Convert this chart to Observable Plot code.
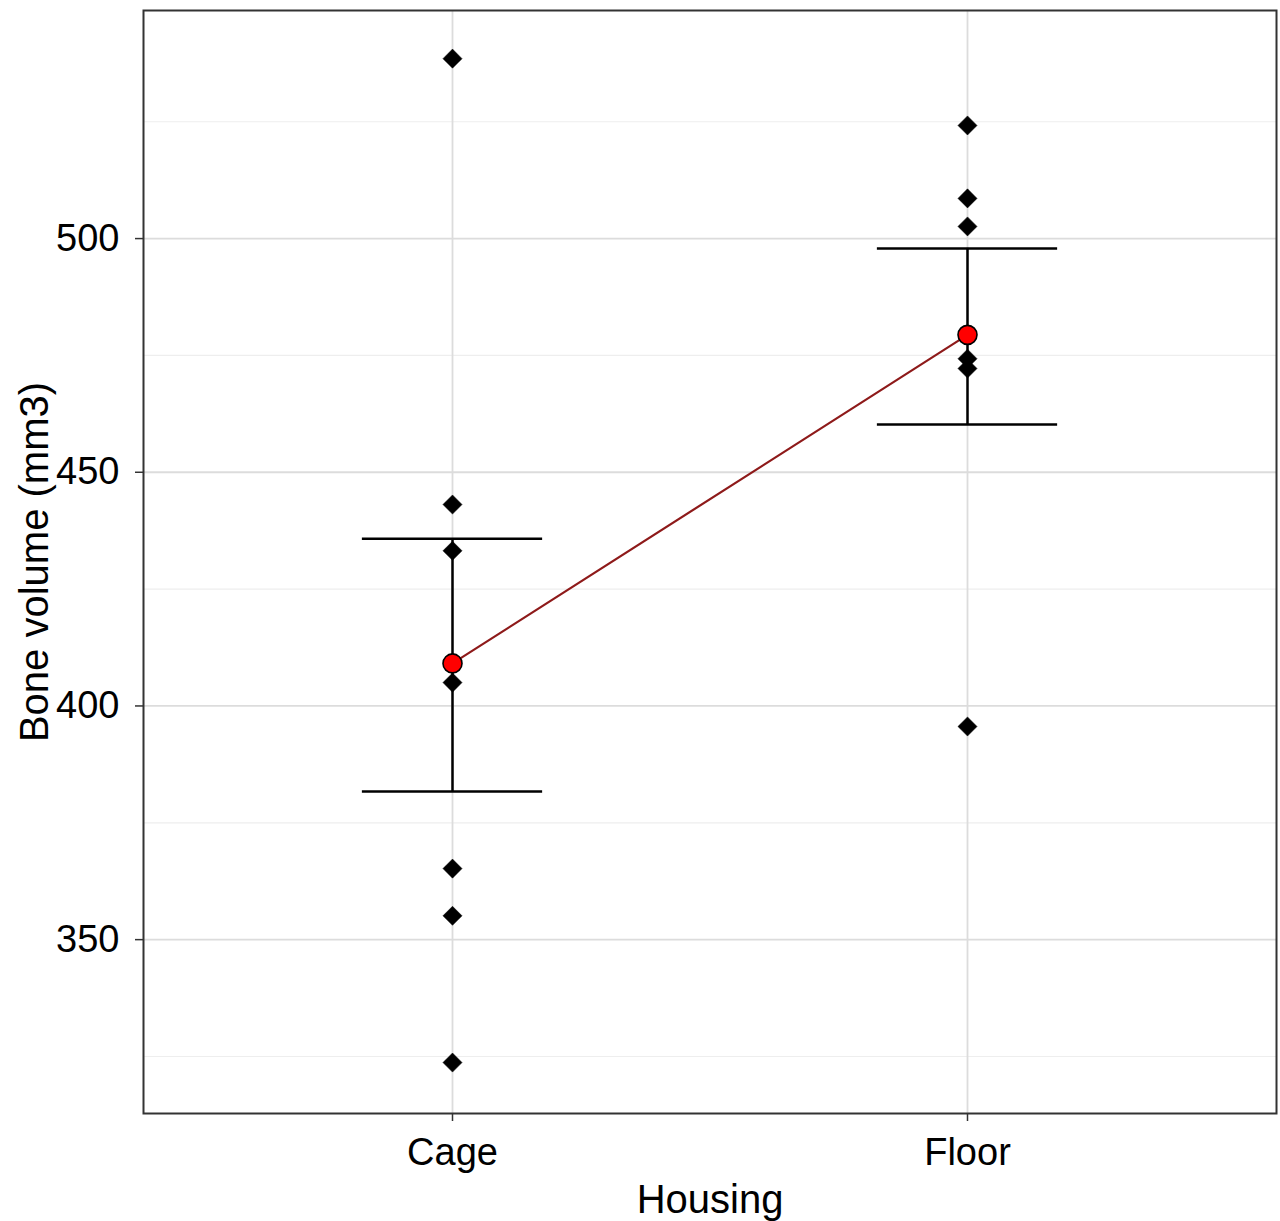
<!DOCTYPE html>
<html>
<head>
<meta charset="utf-8">
<script src="https://cdn.jsdelivr.net/npm/d3@7"></script>
<script src="https://cdn.jsdelivr.net/npm/@observablehq/plot@0.6"></script>
<style>
  html, body { margin: 0; padding: 0; background: #fff; }
  #chart svg { display: block; }
</style>
</head>
<body>
<div id="chart"></div>
<script>
const categories = ["Cage", "Floor"];
const cageValues = [538.5, 443.1, 433.2, 405.0, 365.2, 355.1, 323.7];
const floorValues = [524.2, 508.6, 502.6, 474.3, 472.2, 395.6];
const means = [409.1, 479.4];
const lower = [381.7, 460.2];
const upper = [435.8, 497.9];
const yTicks = [350, 400, 450, 500];
const yMinorTicks = [325, 375, 425, 475, 525];
const xTitle = "Housing";
const yTitle = "Bone volume (mm3)";

const pos = categories.map((c, i) => i + 1);
const raw = [
  ...cageValues.map(v => ({x: 1, y: v})),
  ...floorValues.map(v => ({x: 2, y: v}))
];
const summary = categories.map((c, i) => ({x: pos[i], mean: means[i], lo: lower[i], hi: upper[i]}));
const half = 0.175;

const chart = Plot.plot({
  width: 1280,
  height: 1221,
  marginLeft: 143,
  marginRight: 4,
  marginTop: 10,
  marginBottom: 108,
  style: {fontFamily: "'Liberation Sans', Arial, sans-serif", color: "#000", background: "#fff"},
  x: {type: "linear", domain: [0.4, 2.6]},
  y: {domain: [312.8, 548.8]},
  marks: [
    Plot.ruleY(yMinorTicks, {stroke: "#eeeeee", strokeWidth: 1.2}),
    Plot.ruleY(yTicks, {stroke: "#dcdcdc", strokeWidth: 1.8}),
    Plot.ruleX(pos, {stroke: "#dcdcdc", strokeWidth: 1.8}),
    Plot.line(summary, {x: "x", y: "mean", stroke: "#8e1a1a", strokeWidth: 2.2}),
    Plot.ruleX(summary, {x: "x", y1: "lo", y2: "hi", stroke: "#000", strokeWidth: 2.5}),
    Plot.ruleY(summary, {y: "hi", x1: d => d.x - half, x2: d => d.x + half, stroke: "#000", strokeWidth: 2.5}),
    Plot.ruleY(summary, {y: "lo", x1: d => d.x - half, x2: d => d.x + half, stroke: "#000", strokeWidth: 2.5}),
    Plot.dot(raw, {x: "x", y: "y", symbol: "diamond2", r: 8.6, fill: "#000", stroke: "#000", strokeWidth: 0.5}),
    Plot.dot(summary, {x: "x", y: "mean", r: 9.5, fill: "#ff0000", stroke: "#000", strokeWidth: 1.6}),
    Plot.frame({stroke: "#333", strokeWidth: 2}),
    Plot.axisY(yTicks, {tickSize: 8, tickPadding: 16, fontSize: 38, label: null, stroke: "#333", strokeWidth: 1.5}),
    Plot.axisX(pos, {tickFormat: d => categories[d - 1], tickSize: 8, tickPadding: 17, fontSize: 38, label: null, stroke: "#333", strokeWidth: 1.5}),
    Plot.text([xTitle], {frameAnchor: "bottom", dy: 87, fontSize: 40, lineAnchor: "middle", textAnchor: "middle", fill: "#000"}),
    Plot.text([yTitle], {frameAnchor: "left", dx: -108, rotate: -90, fontSize: 40, lineAnchor: "middle", textAnchor: "middle", fill: "#000"})
  ]
});
document.getElementById("chart").appendChild(chart);
</script>
</body>
</html>
